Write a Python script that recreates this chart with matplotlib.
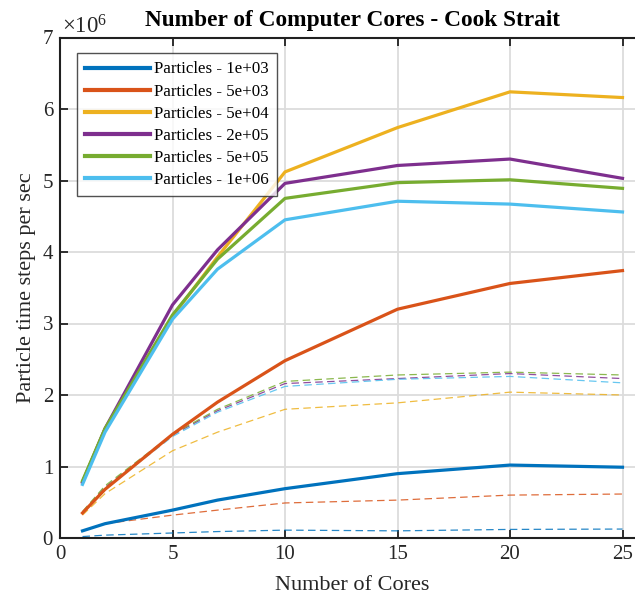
import matplotlib
matplotlib.use("Agg")
import matplotlib.pyplot as plt
from matplotlib.ticker import FuncFormatter

plt.rcParams['font.family'] = ['Liberation Serif', 'DejaVu Serif']
plt.rcParams['mathtext.fontset'] = 'custom'
plt.rcParams['mathtext.rm'] = 'Liberation Serif'
plt.rcParams['mathtext.it'] = 'Liberation Serif:italic'

cores = [1, 2, 5, 7, 10, 15, 20, 25]
labels = ['Particles - 1e+03', 'Particles - 5e+03', 'Particles - 5e+04',
          'Particles - 2e+05', 'Particles - 5e+05', 'Particles - 1e+06']

# solid series (particle time steps per sec)
solid_1e3 = [0.10e6, 0.20e6, 0.39e6, 0.53e6, 0.69e6, 0.90e6, 1.02e6, 0.99e6]
solid_5e3 = [0.35e6, 0.68e6, 1.45e6, 1.90e6, 2.48e6, 3.20e6, 3.56e6, 3.74e6]
solid_5e4 = [0.78e6, 1.52e6, 3.10e6, 3.93e6, 5.12e6, 5.74e6, 6.24e6, 6.16e6]
solid_2e5 = [0.78e6, 1.53e6, 3.26e6, 4.03e6, 4.96e6, 5.21e6, 5.30e6, 5.03e6]
solid_5e5 = [0.80e6, 1.53e6, 3.12e6, 3.90e6, 4.75e6, 4.97e6, 5.01e6, 4.89e6]
solid_1e6 = [0.75e6, 1.48e6, 3.06e6, 3.76e6, 4.45e6, 4.71e6, 4.67e6, 4.56e6]

# dashed series
dash_1e3 = [0.02e6, 0.04e6, 0.07e6, 0.09e6, 0.11e6, 0.10e6, 0.12e6, 0.125e6]
dash_5e3 = [0.10e6, 0.20e6, 0.32e6, 0.39e6, 0.49e6, 0.53e6, 0.60e6, 0.615e6]
dash_5e4 = [0.32e6, 0.62e6, 1.22e6, 1.48e6, 1.80e6, 1.89e6, 2.04e6, 2.00e6]
dash_2e5 = [0.36e6, 0.71e6, 1.44e6, 1.78e6, 2.16e6, 2.23e6, 2.30e6, 2.23e6]
dash_5e5 = [0.37e6, 0.73e6, 1.45e6, 1.80e6, 2.19e6, 2.28e6, 2.32e6, 2.28e6]
dash_1e6 = [0.35e6, 0.69e6, 1.42e6, 1.76e6, 2.12e6, 2.22e6, 2.26e6, 2.17e6]

solids = [solid_1e3, solid_5e3, solid_5e4, solid_2e5, solid_5e5, solid_1e6]
dashes = [dash_1e3, dash_5e3, dash_5e4, dash_2e5, dash_5e5, dash_1e6]
colors = ['#0072BD', '#D95319', '#EDB120', '#7E2F8E', '#77AC30', '#4DBEEE']

W, H = 635, 602
fig = plt.figure(figsize=(W / 100, H / 100), dpi=100)
left, right, top, bottom = 60, 645, 37.5, 538
ax = fig.add_axes([left / W, 1 - bottom / H, (right - left) / W, (bottom - top) / H])

for d, c in zip(dashes, colors):
    ax.plot(cores, d, color=c, lw=0.9, ls=(0, (6, 3.5)), alpha=0.85)
for s, c, lab in zip(solids, colors, labels):
    ax.plot(cores, s, color=c, lw=2.3, label=lab, solid_joinstyle='round')

ax.set_xlim(0, 26)
ax.set_ylim(0, 7e6)
ax.set_xticks([0, 5, 10, 15, 20, 25])
ax.set_yticks([i * 1e6 for i in range(8)])
ax.yaxis.set_major_formatter(FuncFormatter(lambda v, p: f'{v / 1e6:g}'))

ax.grid(True, color='#dcdcdc', lw=1.3)
ax.set_axisbelow(True)
for side in ['left', 'bottom', 'top']:
    ax.spines[side].set_linewidth(1.5)
    ax.spines[side].set_color('#202020')
ax.spines['right'].set_visible(False)
ax.tick_params(direction='in', length=6, width=1.3, labelsize=15, color='#202020',
               top=True, labelcolor='#262626', pad=5)

ax.set_xlabel('Number of Cores', fontsize=16, color='#262626', labelpad=9)
ax.set_ylabel('Particle time steps per sec', fontsize=16, color='#262626', labelpad=5)
ax.set_title('Number of Computer Cores - Cook Strait', fontsize=16.8, fontweight='bold', pad=8)
fig.text(62 / W, 1 - 33 / H, r'$\times10^{6}$', fontsize=16.5, color='#262626', ha='left', va='baseline')

leg = ax.legend(loc='upper left', bbox_to_anchor=((77 - left) / (right - left), 1 - (53 - top) / (bottom - top)),
                fontsize=12.2, frameon=True, fancybox=False, handlelength=3.8,
                handletextpad=0.25, labelspacing=0.36, borderpad=0.5, borderaxespad=0)
leg.get_frame().set_edgecolor('#262626')
leg.get_frame().set_linewidth(1.0)
for l in leg.get_lines():
    l.set_linewidth(3)

fig.savefig('out.png', dpi=100)
